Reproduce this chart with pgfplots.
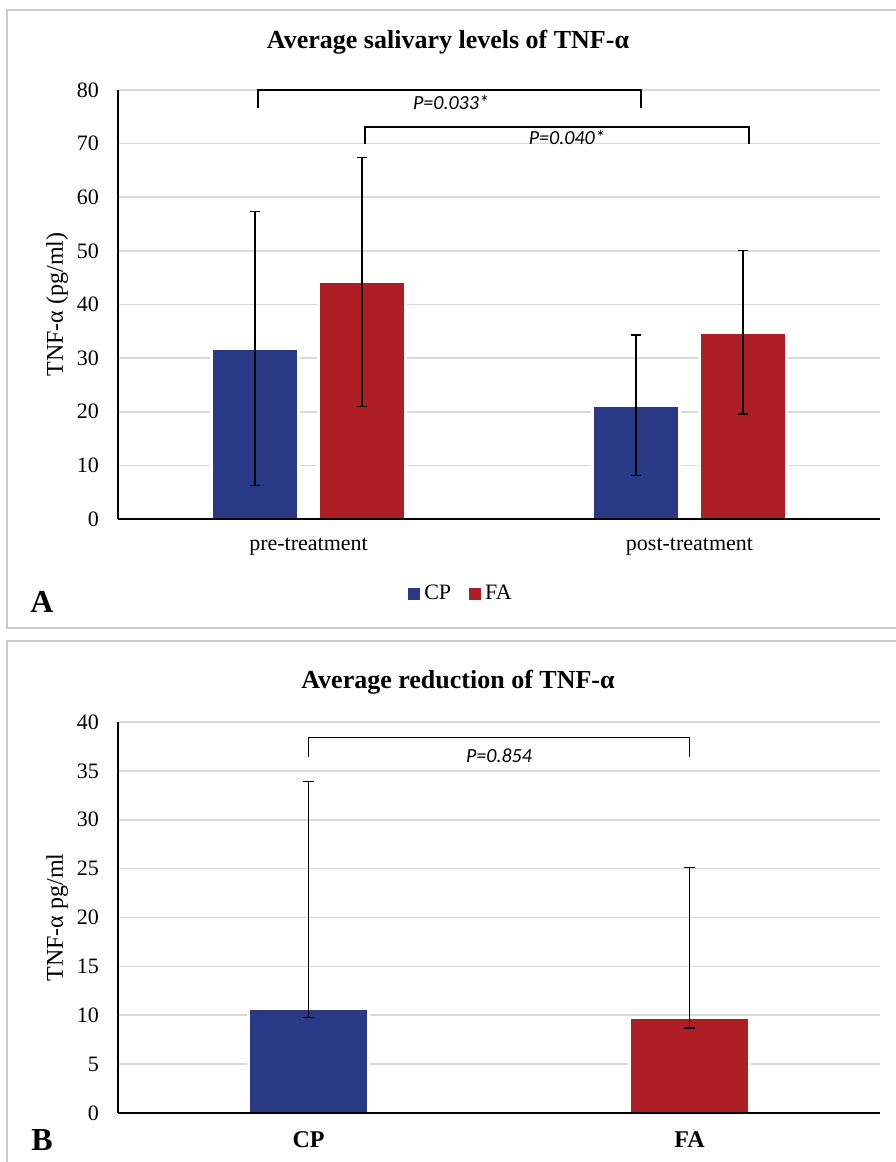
\documentclass[border=0pt]{standalone}
\usepackage{fontspec}
\setmainfont{Liberation Serif}
\newfontfamily\pfont{Carlito}
\usepackage{pgfplots}
\pgfplotsset{compat=1.18}
\definecolor{cpblue}{RGB}{41,57,134}
\definecolor{fared}{RGB}{173,31,37}
\definecolor{gridgray}{RGB}{217,217,217}
\definecolor{framegray}{RGB}{200,203,205}

\pgfplotsset{
  panel/.style={
    scale only axis, width=381pt,
    xmin=-0.5, xmax=1.5, xtick={0,1}, ymin=0,
    axis x line=bottom, axis y line=left,
    axis line style={-, black, line width=0.8pt},
    x axis line style={line width=1.2pt},
    major tick length=0pt,
    ymajorgrids, grid style={gridgray, line width=0.8pt},
    tick label style={font=\fontsize{11}{13}\selectfont},
    yticklabel style={anchor=east, xshift=-6pt},
    xticklabel style={anchor=center, yshift=-14pt},
    /pgf/number format/assume math mode=true,
    ylabel style={at={(axis description cs:-0.08,0.5)}, anchor=center, font=\fontsize{12}{14}\selectfont},
    clip=false,
  },
  eb/.style={
    error bars/y dir=both, error bars/y explicit,
    error bars/error bar style={black, line width=0.6pt},
    error bars/error mark options={rotate=90, mark size=2.6pt, line width=0.6pt, black},
  },
  bars/.style={ybar, bar shift=0, draw=white, line width=1.2pt},
}
\tikzset{plabel/.style={font=\pfont\itshape\fontsize{10}{12}\selectfont}}

\begin{document}
\begin{tikzpicture}
\useasboundingbox (0,0) rectangle (447.5pt,-581pt);

% panel A (groups at 0 and 1, bars offset by 0.1404)
\begin{axis}[panel, at={(59pt,-259.5pt)}, anchor=south west, height=214.5pt,
    ymax=80, ytick={0,10,...,80},
    xticklabels={pre-treatment, post-treatment},
    ylabel={TNF-α (pg/ml)},
    legend style={at={(axis description cs:0.4514,-0.1748)}, anchor=center, draw=none,
      font=\fontsize{11}{13}\selectfont, inner sep=0pt, legend columns=2,
      /tikz/every even column/.append style={column sep=7pt}},
    legend image code/.code={\fill[#1, draw=none] (0pt,-3pt) rectangle (6pt,3pt);},
  ]
\addplot[bars, bar width=0.2289, fill=cpblue, eb] coordinates {
    (-0.1404,31.8) +- (0,25.5) (0.8596,21.2) +- (0,13.1)
};
\addlegendentry{CP}
\addplot[bars, bar width=0.2289, fill=fared, eb] coordinates {
    (0.1404,44.2) +- (0,23.2) (1.1404,34.8) +- (0,15.2)
};
\addlegendentry{FA}
\draw[black, line width=1.2pt] (axis cs:-0.5,0) -- (axis cs:1.5,0);
\draw[black, line width=0.75pt] (axis cs:-0.1325,76.6) |- (axis cs:0.8727,80) -- (axis cs:0.8727,76.6);
\draw[black, line width=0.75pt] (axis cs:0.1483,70.0) |- (axis cs:1.1562,73.1) -- (axis cs:1.1562,70.0);
\node[plabel] at (axis cs:0.374,77.6) {P=0.033*};
\node[plabel] at (axis cs:0.678,71.2) {P=0.040*};
\end{axis}

% panel B
\begin{axis}[panel, at={(59pt,-556.5pt)}, anchor=south west, height=195.5pt,
    ymax=40, ytick={0,5,...,40},
    xticklabels={CP, FA},
    xticklabel style={font=\bfseries\fontsize{12}{14}\selectfont, yshift=0.5pt},
    ylabel={TNF-α pg/ml},
  ]
\addplot[bars, bar width=0.3155, fill=cpblue, eb] coordinates {
    (0,10.7) += (0,23.2) -= (0,0.9)
};
\addplot[bars, bar width=0.3155, fill=fared, eb] coordinates {
    (1,9.7) += (0,15.4) -= (0,1.0)
};
\draw[black, line width=1.2pt] (axis cs:-0.5,0) -- (axis cs:1.5,0);
\draw[black, line width=0.75pt] (axis cs:0,36.4) |- (axis cs:1,38.4) -- (axis cs:1,36.4);
\node[plabel] at (axis cs:0.5,36.6) {P=0.854};
\end{axis}

\begin{scope}[x=0.5pt, y=-0.5pt]
\draw[framegray, line width=0.75pt] (7,10) rectangle (905,628);
\draw[framegray, line width=0.75pt] (7,641) rectangle (905,1175);
\node[font=\bfseries\fontsize{13}{15}\selectfont] at (448,42) {Average salivary levels of TNF-α};
\node[font=\bfseries\fontsize{13}{15}\selectfont] at (458,682) {Average reduction of TNF-α};
\node[font=\bfseries\fontsize{16}{18}\selectfont] at (42,602) {A};
\node[font=\bfseries\fontsize{16}{18}\selectfont] at (42,1140) {B};
\end{scope}
\end{tikzpicture}
\end{document}
